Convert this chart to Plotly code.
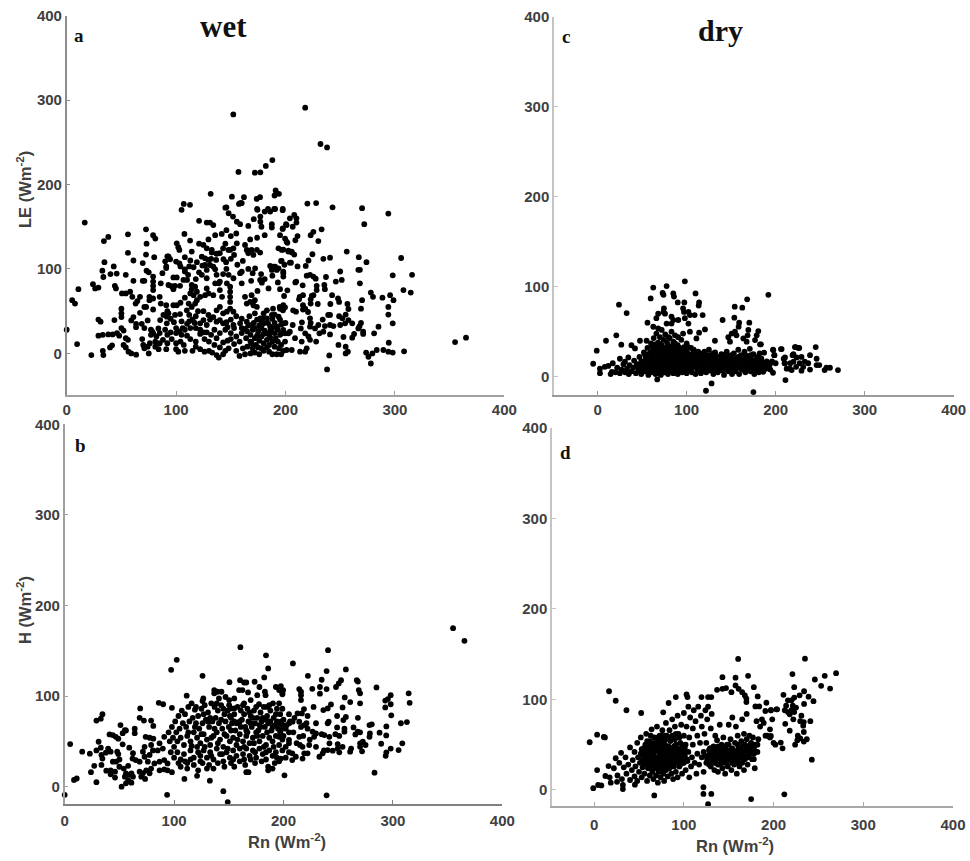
import plotly.graph_objects as go

W, H = 970, 861

wet_le = [
(16.5,155),(0,28),(9.5,11),(10.7,76),(5,63),(7.6,59),(22.5,-2),(33,3),(33.5,-2),(24,82),(26,77),(29,78),(34.5,108),(32.6,98),(33.5,90.5),(34,133),(38,138),
(40,94),(45.7,94.5),(43,103),(54,93),(44,80),(45,77),(56,141),(56,119),(61,110),(61,86),(29,40),(31,37.5),(43.6,39.5),(50,53),(50,47.5),(50,43),(29,21),(33,22),(38,22.5),(42,22.5),
(39.6,7),(41.5,9.5),(46,24),(50,30),(48,21),(52,27),(52,10),(54,7),(56.5,2),(59,0),(63.5,-1.5),(54,18),(56,16),(50.5,71),(54,71),(58,73),(60,67),(64.6,62),(67,67),(63,59),
(69.5,86),(71,86),(72.5,147),(73,130),(72.5,117),(69.5,107),(73,98),(75,96),(79,140),(81,136),(80,114),(79,91),(79,85),(79,80),(79,75),(75.6,67),(79,65),(75.6,63),(71,55),(72.6,55),(79,52),
(67,48),(61,43),(59,39),(63.4,35),(63.4,31),(68.6,35),(71,30),(74,39),(69,17),(70,10),(71,6),(75,0),(76,12),(81,8),(74,8),(81,14),(77,28),(79,24),(78,26),(77,22),
(85,67),(86,59),(91,57),(93,81),(86,83),(87.5,95),(91,103),(90,109),(93,115),
(152.3,283),(218,291),(232,248),(238,244),(157,215),(172,214),(177,214.5),(182,222),(188,229),(191,193),(190,187),(194,189),(131.6,189),(151,185.6),(162,185),(157.5,177),(159.6,178),(173.6,183),(176.7,185),(107,177),(112.7,176),(105,170),(145,172.6),(174,171),(184,171),(189.7,171),
(220,177.5),(228,178),(243,173),(270,172),(294,165.6),(272,153),(197.4,169.6),(208,164),(204,160),(210,160),(210,155),(206.6,150),(200.5,153),(197.4,147.4),(233,147),(225.5,144),(223,140),(211,139),(209,134),(230,133),(199.6,136),(201.7,131),(198,123),(202.6,120.6),(205.7,120.6),(208,117),(224.6,117.4),(256,120.6),(234.6,112),(240.7,113.4),(267,114),(274,108),(305.7,113),(221,110),(218.5,103.6),(196.5,109.5),(199,105),(205,107.5),(211,103),(250,97),(266.6,99),(268,99),(298,92.5),(315.7,93),(198,95),(198,91),(219.4,92),(222.4,93),(225.5,91),(227.6,88.5),(237,90.5),(246,85),(251.4,87),(268,83),(209,84),(215.7,80.6),(228.5,80),(228.5,75),(235.5,81),(236,76),(201.7,74.7),(195,76),(307.8,75),(314.5,72),(278,72),(280,67),(288.6,66),(295.6,69),(298.7,63),(242.6,69),(248,65),(249,61),(213,67),(216,69),(212.4,64),(224,68),(223,64),(225.5,69),(223,59),(198.7,68),(270,63),(229.5,58.5),(241,58.5),(256.6,58.5),(257.5,52.6),(269,53),(294,55),(294,46),(298,35.6),(216,57),(218,53),(216,52),(220.6,49),(198,57),(196.5,53),(199.6,54.5),(195,53),(207,51),(209.6,49.4),(239,45.5),(240.7,45.5),(249,44),(252,41.5),(255,46),(234,40),(222.4,41.5),(223,36),(257.5,39.5),(254.5,35.6),(261,35.6),(269,36),(267.6,32),(266.6,29.6),(250,33.6),(215,36.8),(214,29.6),(230,33.6),(236,32.4),(240.7,33.6),(243.8,32.4),(285,31.6),(281,23.7),(271,25.7),(271,23),(262.7,23),(261,18.6),(240.7,22.5),(231,23.7),(234.6,25.7),(227,29.6),(222.4,31.6),(253,19.4),(248.4,10),(255,8),(255,0),(257,2),(228,14),(294.4,12.6),(308.4,2.4),(273.7,1),(279.4,0),(283.4,4),(289.5,4),(294,2),(298,1),(275.8,-4),(278,-12),(240,-2.4),(238,-19),(355,13.4),(365,18.6),(213.3,2),(218,2),(219.4,6),(201,4),(205.7,4),(214.8,14),(218,23.7),(221,20),(222.4,16),(208.7,18),(199.6,14),(196.5,23.7),(199.6,23.7),(202.6,23.7),(198,35.6),(206.6,33.6),
(121,157),(128,155),(131,155),(134,152),(146,173),(148,166),(152,162),(155.5,156),(158.5,153),(158.5,178),(160,178),(166,151),(171,159),(174.4,170),(177,162),(177,156),(178,150),(181,168),(186,168),(190.5,171),(197.5,171),(187.5,153),(187.5,149),(197.5,148),(201,152),(181,140),(174,137),(167.7,135),(107.6,141.5),(112.8,133.6),(121,130),(125,128.5),(129.6,135),(135.7,140),(141.7,141.5),(146,146),(150,139),(155,142),(100.6,130.4),(102,125.7),(103,122.5),(114.3,120.6),(92,115),(94.5,111.5),(91,101),(100,108.7),(103,106.7),(104,103),(108,114),(108,99.6),
(128,124.5),(132.6,122.5),(132.6,119.4),(123.5,114.6),(126.5,112.6),(129.6,110.7),(136.6,110.7),(140,118.6),(143,124.5),(145,130),(143.3,111.5),(145.7,108),(149.4,122.5),(152.4,124.5),(155.5,130.4),(153,116.6),(147.9,122.5),(163,128.5),(164.6,122.5),(166,118.6),(169,122.5),(170.7,116.6),(173.8,122.5),(176.8,119.4),(161,109.5),(158.5,95),(160,96.8),(172.2,100.8),(177.7,94),(168.6,86),(176.8,87),(178.4,83.8),(184.5,77),(174.4,74),
(186,103.6),(189,102.8),(190.5,102.8),(193.6,100.8),(187.5,98.8),(192,98.8),(198,96.8),(193.6,124.5),(196.6,122.5),(202.7,121.7),(205.8,119.4),(196,109.5),(204,107.5),(209.8,85),(195,140),(201,132.4),
(126.5,104.7),(131,104.7),(134,102.8),(135.7,99.6),(128,98.8),(123.5,93),(128,89),(137,93),(143,94),(148,93),(152.4,89),(160,83),(140,85),(135.7,83),(139,83),(146.4,83),
(108,97),(111,93),(106.7,87),(110,87),(100.6,90),(97.5,90),(99,80),(103.6,80),(97.5,76),(96,79.5),(114.3,81),(117.4,79),(114.3,76),(119,73),(116,69),(122,67),(119,63),(117.4,59),(126.5,69),(129.6,71),(128,77),(134,69),(140,75),(142,67),(149.4,79),(149.4,73),(149.4,67),(149.4,61),
(163,67),(169,69),(172,63),(167.7,61),(164.6,59),(170.7,57),(173.8,55),(111.5,59),(114.3,55),(109.8,51),(112,45.5),(97.5,57),(100.6,57),(99,45.5),(103.6,46.6),(93,47.5),(91.5,43.5),(88.4,45.5),(85.4,39.5),(91.5,35.6),(83.8,29.6),
(125,50),(129.6,45.5),(125,39.5),(122,35.6),(128,33.6),(137,51),(140,55),(143,47.5),(146.4,49.4),(149.4,53),(152.4,49.4),(140,39.5),(137,37.5),(143,35.6),(152.4,33.6),(158.5,35.6),(164.6,37.5),(169,33.6),(172,47.5),(180,47.5),(183,51),(188.6,53),(194.7,55),(197.7,51),(187.6,45.5),(193.7,43.5),(183,41.5),(177,41.5),(180,35.6),(186,31.6),(192,31.6),(198,27.7),(204,25.7),(177,29.6),
(100,24),(105,22),(110,21),(113,17),(118,14),(104,14),(107,10),(100,12),(96,17),(92,12),(91,5),(100,5),(102,2),(108,3),(115,3),(118,8),(122,5),(126,2),(130,3),(133,1),(137,-2),(139,-5),(143,-1),(145,3),(140,7),(135,10),(130,14),(126,17),(122,23),(128,25),(135,28),(140,24),(145,28),(150,24),(155,20),(160,24),(163,29),(158,14),(153,11),(148,6),(155,3),(158,-3),(163,-1),(168,0),(172,1),(176,-1),(180,3),(185,2),(188,-1),(192,-1),(196,-1),(198,3),(194,6),(190,8),(185,10),(180,12),(176,15),(172,18),(168,22),(165,26),(170,28),(175,26),(180,23),(185,22),(190,24),(195,22),(165,8),(170,6),(175,7),(161,6),(168,14),(173,10),(178,6),(183,7),(188,14),(193,14),(183,16),(178,20),(186,26),(191,18),(196,10),(160,30),(166,33),(172,30),(178,32),(184,36),(190,36),(195,40),(200,36),(188,41),(180,42),(100,30),(95,25),(90,28),(85,24),(82,20),(88,16),(85,12),(84,5),(92,22),(108,28),(113,30),(118,30),(122,28),(110,35),(105,38),(115,40),(125,25),(132,22),(137,18),(143,13),(147,15),(150,17),(153,30),(147,31),
(155,44),(160,41),(167,44),(174,40),(178,38),(190,46),(196,34),(186,19),(181,27),(174,21),(169,12),(164,18),(171,36),(176,33),(182,24),(188,30),(193,28),(150,40),(146,37),(134,43),(131,40),(118,44),(120,50),(117,36),(112,38),(106,30),(103,26),(98,37),(95,41),(92,50),(104,60),(108,66),(113,71),(118,88),(121,96),(116,102),(124,104),(119,108),(113,110),(112,103),(132,112),(137,118),(156,105),(150,112),(146,100),(166,100),(170,95),(181,88),(188,92),(193,84),
]

wet_h = [
(0,-9),(5,47),(16,38.6),(23,36.4),(8.5,7.4),(11,9),(24,16),(27,23),(29,5),(29,73),(33,75),(34.5,80),(31,49.6),(29,40),(33,43),(33.6,35),(34.5,31),(33.6,24),(38,17.6),(39.7,42),(37.6,37.5),(42,38.6),(42,13.6),(41,57.7),(44,57),(46.7,55),(49,53),(51,68),(55,62.5),(53,59),(56,62),(53,46.7),(59,43),(48,38.6),(49,36),(44,27.6),(47,27.6),(50,30),(46,16.5),(50,22),(54,20),(58,23),(42,18),(46,10),(52,0),(56,3.7),(55,11),(58,13),(61,14.7),(62.4,11),(61,4.4),(58,7),(56,14.7),(64,64),(64,59),(69,86.4),(68.5,76),(72.4,73),(79,73),(81,67),(86,92.6),(90,91),(98,87),(74,55),(77.6,54),(81,53),(73,44),(79,46),(86.7,47.8),(91,55),(85,40),(89.7,42),(62.4,37),(62,31),(65,29.4),(68.5,27.6),(71.5,38.6),(73,33),(77.6,35),(76,27.6),(80.6,40),(82,25.7),(86.7,27.6),(91,29.4),(94,25.7),(86.7,18),(91,19),(94,18),(74.5,18),(73.5,8.5),(71.5,14.7),(68.5,16.5),(70,11),(77.6,14.7),(79,20),(93.6,-9),(97.3,129),(102.4,140),(98,16),(109.4,8.5),(121,12),(132.7,6.6),(145,-5),(149,-17),(126,122.4),(111.5,100.4),(160.6,154),(184,145),(186,130.5),(182.4,120.6),(150.6,115.4),(160.3,117.6),(164,115),(166,115),(173.6,115.8),(159.4,106.6),(162.4,106.6),(167.6,104),(176,101),(178,110),(183,104.8),(183.6,101),(136.7,106.6),(139.7,104.8),(143.3,104.8),(136.7,103),(141,97.4),(147,99),(150.3,95.6),(155,97.4),(126.7,97.4),(126,94.5),(155,86.4),(150.3,90),(152,86.4),(164,92),(170,95.6),(177.6,91),(185,88),(190.4,92),(196,92),(193,110),(196,106.6),(199,103),
(355,175),(365.4,161),(240.7,150.7),(208.6,136),(239.4,127.6),(257,129.4),(222.3,122.4),(234.9,118),(252.6,117.6),(250.5,114),(248,110),(267,117.6),(268,116),(285,109.6),(226.3,108),(233.3,110),(239.4,107.7),(233.3,102.6),(214.4,107.7),(216,104.8),(216,101),(216,95.6),(197.6,111),(199.7,106.6),(199,102),(268.8,106.6),(270,103),(256,98.5),(261,93.4),(270,92),(298,101),(295.4,96.7),(293,95),(298,91),(293,87.5),(314.4,103),(315.3,92.6),(227.5,88),(243.4,90.8),(240.4,86.4),(236.4,84.6),(254,87.5),(218.7,85.6),(212.8,80.9),(216.8,80.9),(222,78),(229.7,70),(249,78),(257,77),(254.7,73.5),(268,76),(241.3,71.7),(240.4,70),(298.5,78.7),(307.3,70),(312.8,71.3),(294,66.5),(278.6,68),(280.7,68.8),(249,65.4),(255.7,64),(264,65.4),(255.7,60.7),(247.4,58),(251,56),(241.9,55),(267.9,60.7),(270,60),(265.7,57.7),(279,58.8),(278.6,55),(287.8,59.6),(293.9,56.6),(234.9,58),(237.3,57),(226.6,60.7),(229.7,58.8),(222,64),(216,66),(219,68),(214.4,71.7),(205.2,70),(208.3,71.7),(199,68),(249.5,47),(254,44),(249.5,42),(242,47.8),(240.4,40.4),(245,39.7),(251,37.9),(260.9,38.6),(261.8,42),(270,47.8),(272.5,49.6),(275,46),(270,44),(271.8,39),(289.3,47.4),(308.6,47.8),(298,42),(305.2,40.4),(294,37.9),(293.4,34),(283.2,15.4),(200.9,12.5),(239.4,-9.6),(235.8,36.8),(232.8,33),(237,40),(229.7,44),(223.5,46),(217.4,44),(219,36.8),(211.3,33),(208,29.4),(217.4,31),(222,36.8),(208,36.8),(197.6,31),(228,55),(214.4,55),(205,51.5),(196,55),(197.6,62.5),
(95,60),(98,66),(101,72),(104,78),(107,84),(110,80),(113,88),(116,92),(119,85),(122,78),(125,86),(128,90),(131,82),(134,92),(137,88),(140,84),(143,90),(146,80),(149,84),(152,76),(155,80),(158,88),(161,84),(164,80),(167,86),(170,78),(173,84),(176,76),(179,82),(182,88),(185,78),(188,84),(191,76),(194,86),(197,80),(200,74),
(96,50),(99,54),(102,60),(105,64),(108,70),(111,66),(114,72),(117,76),(120,70),(123,64),(126,70),(129,74),(132,66),(135,72),(138,76),(141,70),(144,64),(147,72),(150,66),(153,70),(156,62),(159,70),(162,74),(165,66),(168,72),(171,66),(174,70),(177,62),(180,72),(183,66),(186,70),(189,62),(192,68),(195,64),(198,72),(202,64),(205,60),
(97,38),(100,44),(103,50),(106,54),(109,46),(112,56),(115,50),(118,60),(121,54),(124,48),(127,58),(130,52),(133,46),(136,56),(139,60),(142,52),(145,44),(148,56),(151,50),(154,54),(157,46),(160,58),(163,50),(166,56),(169,48),(172,54),(175,60),(178,50),(181,56),(184,46),(187,54),(190,50),(193,56),(196,46),(199,52),(202,44),(205,48),
(100,32),(103,38),(106,30),(109,36),(112,26),(115,40),(118,32),(121,44),(124,34),(127,40),(130,32),(133,38),(136,30),(139,42),(142,36),(145,28),(148,38),(151,32),(154,40),(157,34),(160,42),(163,36),(166,42),(169,34),(172,40),(175,32),(178,42),(181,36),(184,30),(187,40),(190,34),(193,38),(196,28),(199,40),(202,32),(205,38),
(106,22),(112,20),(118,24),(122,18),(126,26),(132,24),(136,20),(140,26),(146,22),(152,26),(155,22),(160,28),(165,24),(170,30),(174,26),(180,28),(186,22),(192,26),(166,16),(168,16),(186,18),(190,20),(104,26),(110,28),(130,20),
(113,60),(116,45),(119,66),(122,38),(125,58),(128,44),(131,72),(134,54),(137,64),(140,48),(143,74),(146,58),(149,42),(152,62),(155,72),(158,52),(161,66),(164,44),(167,60),(170,70),(173,48),(176,56),(179,66),(182,44),(185,60),(188,72),(191,44),(194,72),(197,60),(200,56),(203,68),(206,72),(209,60),(212,48),(215,46),(218,56),(221,70),(224,52),(120,88),(127,80),(133,76),(139,92),(145,86),(151,78),(157,70),(163,90),(169,82),(175,88),(181,76),(187,90),(193,80),(199,86),(205,80),(210,76),(160,72),(166,62),(172,76),(178,68),(184,74),(190,66),(196,70),(115,30),(124,28),(134,34),(144,36),(154,30),(164,30),(174,38),(184,38),(194,32),
]

dry_le = [
(-5,14.4),(-1,29),(9.4,40),(21,46),(24,80),(32.6,70.7),(26.6,35.6),(2.6,9),(8,11),(12,12),(17,15),(2.6,4),(14.6,3),(16,5.5),(25,20),(30.7,16.7),(38,35),(42,31.5),(34.5,21.5),
(47.6,40),(55,40),(56,60),(59.6,87),(62.5,99),(73,93),(74,91),(77.5,100.7),(74.5,76),(74,72),(85,92.6),(85.8,89),(90,82.6),(97.4,82.6),(98,106),(110,92.6),(114,82.6),(113.5,79),(118,68.5),(109,68.5),(96,76),(97,72),(102,72),(68,70),(66,65),(75.7,70),(83,66.7),(90.6,63),(77.5,59),(83,59),(85,63),(62.5,55.5),(68,53.7),(72,52),(98,65),(102,59),(103.7,68.5),(120.6,52.6),(114,49),(103.7,50),(96,48),(90.6,44),(85,39),(79.4,44),(111,42.6),(100,37),(107.5,29.6),(131.8,40),(140.4,63),(154,77.8),(162.5,76.7),(168,86),(191.8,91),(153.6,65.6),(159,60),(158.4,55.6),(170.4,60),(154.3,50),(150.6,48),(156,46),(146.8,44),(148.7,39),(169.3,52),(168.5,46),(163.7,42.6),(167.4,39),(180.5,50.7),(178.7,46),(176.8,40.7),(182.4,36),(187,26.7),(197.4,29.6),(198.5,24),(206.7,30.7),(222.5,33),(225.5,32),(219,24),(210.5,21.5),(210.5,15),(212.4,9),(223.6,21.5),(211,-3.7),(121.7,-15.6),(128,-7.4),(175,-17),(67,-3),
(270,7.4),(261,10),(255,7.4),(257,10),(245,33),(246,20),(246,13),(249,13),(221.6,33),(226.5,32),(206,30.7),(197,30),(198.6,24),(183.5,36),(238.6,24),(229,22),(220,25),(209,20),(232.7,16.7),(227,15),(220,16.7),(216.5,15),(236.6,15),(231,11),(223,11),(216,9),(238.6,8),(229,6.7),(218,7.4),(210,15),(197,4.4),(200,15),(193,13),(187,15),(184,11),(186,5.5),(182,16.7),(195,15.5),(189,9),
(20,5),(22,10),(25,4),(27,8),(29,14),(31,5),(33,9),(35,3),(36,13),(38,6),(40,10),(41,18),(43,4),(44,14),(46,8),(47,22),(49,3),(49,17),(51,11),(52,27),(53,6),(54,21),(55,15),(56,32),(57,2),(57,9),(58,25),(59,18),(60,37),(60,5),(61,12),(62,29),(62,22),(63,43),(64,8),(64,16),(65,33),(65,3),(66,26),(66,48),(67,12),(68,20),(68,38),(69,6),(69,30),(70,15),(70,44),(71,24),(71,2),(72,9),(72,35),(73,18),(73,28),(74,41),(74,5),(75,13),(75,22),(76,32),(76,47),(77,8),(77,26),(78,17),(78,38),(79,3),(79,30),(80,11),(80,22),(81,43),(81,6),(82,15),(82,34),(83,26),(83,50),(84,9),(84,19),(85,30),(85,4),(86,13),(86,24),(87,37),(87,46),(88,7),(88,18),(89,28),(90,3),(90,12),(90,35),(91,22),(92,7),(92,16),(93,30),(94,11),(94,41),(95,5),(95,20),(96,26),(97,14),(97,33),(98,8),(99,19),(100,4),(100,28),(101,12),(102,23),(103,8),(104,16),(105,32),(106,5),(107,20),(108,11),(109,25),(110,3),(110,16),(112,8),(112,21),(113,28),(115,13),(116,4),(116,24),(118,9),(118,18),(120,14),(120,28),(122,5),(122,22),(124,10),(125,17),(125,30),(127,7),(127,24),(129,13),(130,3),(130,20),(132,9),(132,27),(134,15),(135,5),(135,22),(137,11),(138,18),(139,25),(140,7),(141,14),(142,2),(143,21),(144,10),(145,28),(146,16),(147,6),(148,23),(149,12),(150,18),(151,3),(152,9),(153,26),(154,14),(155,6),(155,20),(157,11),(158,30),(159,3),(160,17),(161,24),(162,8),(163,13),(164,20),(165,28),(166,5),(167,16),(168,10),(169,23),(170,14),(171,31),(172,6),(173,19),(174,11),(175,25),(176,3),(177,15),(178,8),(179,21),(180,13),(181,5),(182,26),(183,17),(184,20),(186,13),(188,9),(190,17),(192,12),(194,8),(196,17),
(45,12),(48,7),(52,17),(55,24),(58,13),(60,20),(63,26),(66,10),(68,28),(70,22),(72,14),(74,31),(76,16),(78,25),(80,33),(82,9),(84,28),(86,20),(88,12),(90,26),(92,32),(94,18),(96,11),(98,24),(100,16),(102,33),(104,24),(106,14),(108,18),
(62,33),(64,25),(66,18),(68,8),(70,30),(72,24),(74,12),(76,6),(78,12),(80,28),(82,22),(84,14),(86,7),(88,24),(90,18),(92,26),(94,24),(96,8),(98,16),(100,12),
(51,6),(54,12),(57,18),(59,27),(61,9),(63,18),(65,12),(67,24),(69,16),(71,10),(73,22),(75,5),(77,14),(79,20),(81,26),(83,12),(85,18),(87,8),(89,15),(91,28),(93,20),(95,12),(97,22),(99,10),(101,26),(103,18),(105,10),(107,26),(109,14),(111,20),(113,12),(115,20),(117,8),(119,22),(121,12),(123,17),(125,7),(127,14),(129,20),(131,12),(133,6),(135,17),(137,21),(139,12),(141,20),(143,8),(145,14),(147,20),(149,8),(151,15),(153,6),(155,13),(157,18),(159,10),(161,15),(163,8),(165,12),(167,20),(169,7),(171,18),(173,13),(175,18),(177,8),(179,14),(181,18),(183,9),(185,15),
(50,14),(53,25),(56,8),(59,13),(62,6),(64,36),(66,30),(68,15),(70,36),(72,18),(74,24),(76,24),(78,8),(80,16),(82,28),(84,24),(86,34),(88,30),(90,20),(92,12),(94,30),(96,18),(98,30),(100,22),(102,16),(104,8),(106,24),(108,30),(110,24),(112,14),(114,18),(116,16),(118,26),(120,6),(122,16),(124,24),(126,20),(128,10),(130,26),(132,17),(134,21),(136,14),(138,8),(140,16),(142,24),(144,17),(146,11),(148,16),(150,24),(152,19),(154,8),(156,16),(158,22),(160,12),(162,22),(164,14),(166,24),(168,18),(170,9),(172,24),(174,16),(176,10),(178,18),(180,22),
]

dry_h = [
(-5,52.7),(3.3,61),(10.7,58.6),(12,58),(16.6,109),(24,98.5),(36,88),(52.4,85),(77,85.7),(91,102.6),(83,96),(103,105.5),(104,102.6),(119.6,102.6),(127,102.6),(130.6,102.6),(143,124.5),(157.6,124),(171.6,126),(160.5,144.7),(137,110.6),(143,111.7),(147,112.5),(153,108),(157.6,115.4),(161,111.7),(165,108),(168,104.4),(169.7,100.7),(169.7,97),(178,113.5),(182.3,103.3),(192,96.3),(179.7,92.3),(184,92.3),(190.8,87.2),(197,88),(204,89),(212,-4.8),(175,-10),(121.8,3),(121.8,-4.4),(130.6,-4.4),(127,-15.7),(67,-6),(-1,2),(3.3,22),(4.4,5.5),(8,5),(12.5,15.4),(17.3,14),(18.5,8),(25.5,9),(32,5.5),(32,1),(45.4,5.9),(16,26.4),
(235,145),(221,128),(269.7,129),(257,126),(246,122),(253,115),(263,112),(223,113.5),(211,105),(234,109),(229,104.5),(223,102),(239,103),(244.5,98),(234,95),(216,99),(220,99),(214,93),(212.5,88),(216,86),(221.4,93),(225,91),(223,86),(218,83.5),(220,88),(203,89),(197,88),(198.5,78),(222,78),(229.7,76),(233.7,75),(241,76),(233,71),(231,82),(213,73),(218,65.5),(233.7,64),(196,67),(197,59.6),(227,60),(229.7,57),(237,56),(233.7,53.4),(226.5,55),(224,50),(208,52.3),(202,50),(210,46),(242.6,33.4),
(22,24),(24,35),(26,16),(28,30),(30,41),(31,12),(33,25),(35,36),(36,18),(38,28),(40,11),(40,47),(42,22),(43,33),(45,15),(45,42),(46,26),(48,52),(48,10),(49,36),(50,20),(51,30),(52,58),(53,14),(53,45),(54,25),(55,38),(56,18),(57,50),(58,30),(58,62),(59,10),(60,24),(60,42),(61,35),(62,16),(62,54),(63,28),(64,46),(64,67),(65,20),(65,38),(66,12),(66,32),(67,58),(68,25),(68,44),(69,16),(69,36),(70,52),(70,70),(71,28),(71,8),(72,42),(72,20),(73,34),(73,60),(74,14),(74,48),(75,26),(75,38),(76,66),(76,55),(77,18),(77,44),(78,30),(78,10),(79,36),(79,50),(80,22),(80,74),(81,42),(81,60),(82,15),(82,30),(83,48),(83,36),(84,24),(84,66),(85,40),(85,54),(86,18),(86,30),(87,46),(87,78),(88,12),(88,36),(89,58),(89,26),(90,42),(90,70),(91,20),(91,50),(92,32),(93,82),(93,14),(94,44),(94,62),(95,26),(96,36),(96,52),(97,72),(98,18),(98,45),(99,30),(100,60),(100,85),(101,38),(102,22),(102,50),(103,70),(104,32),(105,42),(105,92),(106,14),(106,58),(107,80),(108,26),(109,36),(110,68),(110,50),(111,88),(112,30),(113,76),(114,18),(115,40),(115,60),(116,92),(117,28),(118,52),(119,82),(120,36),(120,70),(122,20),(122,42),(123,62),(124,88),(125,30),(125,52),(126,78),(127,92),(128,38),(129,46),(130,26),(130,68),(131,84),(132,34),(133,48),(134,22),(135,42),(135,60),(136,30),(137,55),(138,20),(138,36),(139,46),(140,28),(140,72),(141,40),(142,50),(143,24),(143,34),(144,58),(145,44),(146,30),(146,18),(147,38),(148,50),(149,26),(150,42),(150,72),(151,34),(152,56),(153,22),(154,46),(154,80),(155,36),(156,28),(157,52),(158,42),(158,70),(159,18),(160,32),(160,60),(161,46),(162,26),(163,38),(164,54),(165,30),(165,78),(166,44),(167,22),(167,62),(168,50),(169,36),(170,56),(170,84),(171,28),(172,46),(173,60),(174,40),(175,52),(176,34),(177,58),(178,46),(179,24),(180,50),(181,76),(182,42),(183,56),(185,70),(187,78),(189,74),(191,60),(193,60),(196,58),(200,52),
(52,40),(55,28),(58,46),(60,34),(62,42),(64,30),(66,40),(68,50),(70,36),(72,30),(74,40),(76,32),(78,42),(80,34),(82,42),(84,46),(86,36),(88,44),(90,34),(92,44),(94,38),(96,28),(98,38),(100,30),(70,24),(74,22),(78,24),(82,24),(65,50),(70,44),(75,52),(80,56),(85,46),(90,56),(60,50),(66,24),(72,56),(62,24),
(128,28),(132,40),(136,36),(140,44),(144,40),(148,30),(152,44),(156,36),(160,50),(164,42),(168,34),(172,38),(176,44),(134,30),(138,28),(142,30),(146,46),(150,50),(154,30),(158,30),(162,36),(166,50),(170,44),(174,50),(178,34),
(54,33),(57,42),(59,36),(61,28),(63,48),(65,44),(67,36),(69,28),(71,48),(73,42),(75,32),(77,36),(79,26),(81,36),(83,30),(85,26),(87,32),(89,48),(91,38),(93,46),(95,40),(97,34),(99,42),(101,46),(103,34),(55,46),(58,38),(60,30),(62,36),(64,24),(66,46),(68,32),(70,28),(72,46),(74,34),(76,42),(78,48),(80,44),(82,38),(84,34),(86,42),(88,30),(90,30),(92,38),(94,34),(96,44),(98,50),(100,40),(67,52),(71,58),(75,60),(79,60),(83,58),(87,60),(91,62),(95,58),(63,60),(59,54),
(126,34),(129,40),(131,30),(133,36),(135,34),(137,44),(139,38),(141,34),(143,44),(145,36),(147,44),(149,34),(151,40),(153,36),(155,44),(157,32),(159,38),(161,42),(163,46),(165,36),(167,40),(169,44),(171,36),(173,42),(175,46),(177,50),(130,46),(134,42),(138,48),(142,38),(146,40),(150,36),(154,40),(158,36),(162,30),(166,36),(170,48),(174,46),(178,40),(182,50),(128,44),(124,38),
]

wet_le_x, wet_le_y = [list(v) for v in zip(*wet_le)]
wet_h_x, wet_h_y = [list(v) for v in zip(*wet_h)]
dry_le_x, dry_le_y = [list(v) for v in zip(*dry_le)]
dry_h_x, dry_h_y = [list(v) for v in zip(*dry_h)]

tick_vals = [0, 100, 200, 300, 400]
TICK_FONT = dict(family="Liberation Sans", size=15, color="#404040", weight=700)

panels = [
    (wet_le_x, wet_le_y, (66.7, 504.3), (395, 15.7), (0, 400), (-49.3, 400), "#8c8c8c", "#a0a0a0", 0),
    (wet_h_x, wet_h_y, (64.7, 502.3), (803.7, 424.3), (0, 400), (-18.8, 400), "#a0a0a0", "#808080", 3),
    (dry_le_x, dry_le_y, (554, 953.7), (395, 16.7), (-49, 400), (-20.3, 400), "#c4c4c4", "#9a9a9a", 0),
    (dry_h_x, dry_h_y, (552, 953), (806, 427.7), (-47, 400), (-17.7, 400), "#c4c4c4", "#a8a8a8", 4),
]

fig = go.Figure()
layout = {}
for i, (xs, ys, xp, yp, xr, yr, ly, lx, standoff) in enumerate(panels, start=1):
    sx = "" if i == 1 else str(i)
    fig.add_trace(go.Scatter(x=xs, y=ys, mode="markers", xaxis=f"x{sx}", yaxis=f"y{sx}",
                             marker=dict(color="black", size=5.8, line=dict(width=0)),
                             cliponaxis=False, showlegend=False, hoverinfo="skip"))
    layout[f"xaxis{sx}"] = dict(domain=[xp[0] / W, xp[1] / W], range=list(xr), tickvals=tick_vals,
                                anchor=f"y{sx}", showgrid=False, zeroline=False, showline=True,
                                linecolor=lx, linewidth=1.5, ticks="inside", ticklen=4, tickcolor=lx,
                                tickwidth=1, tickfont=TICK_FONT, ticklabelstandoff=standoff)
    layout[f"yaxis{sx}"] = dict(domain=[1 - yp[0] / H, 1 - yp[1] / H], range=list(yr), tickvals=tick_vals,
                                anchor=f"x{sx}", showgrid=False, zeroline=False, showline=True,
                                linecolor=ly, linewidth=1.5, ticks="inside", ticklen=4, tickcolor=ly,
                                tickwidth=1, tickfont=TICK_FONT)

def note(text, px, py, size, family, color, angle=0, weight=700):
    return dict(text=text, x=px / W, y=1 - py / H, xref="paper", yref="paper", showarrow=False,
                xanchor="center", yanchor="middle", textangle=angle,
                font=dict(family=family, size=size, color=color, weight=weight))

SERIF = "Liberation Serif"
SANS = "Liberation Sans"
annotations = [
    note("wet", 223, 27, 31, SERIF, "#111111"),
    note("dry", 720, 30, 30, SERIF, "#111111"),
    note("a", 79, 35, 19, SERIF, "#111111"),
    note("b", 80, 445, 19, SERIF, "#111111"),
    note("c", 566, 37, 19, SERIF, "#111111"),
    note("d", 565, 452, 19, SERIF, "#111111"),
    note("LE (Wm<sup>-2</sup>)", 24, 190, 16.5, SANS, "#404040", -90),
    note("H (Wm<sup>-2</sup>)", 24, 610, 16.5, SANS, "#404040", -90),
    note("Rn (Wm<sup>-2</sup>)", 287, 841, 16.5, SANS, "#404040"),
    note("Rn (Wm<sup>-2</sup>)", 735, 845, 16.5, SANS, "#404040"),
]

fig.update_layout(width=W, height=H, margin=dict(l=0, r=0, t=0, b=0, autoexpand=False), autosize=False,
                  plot_bgcolor="white", paper_bgcolor="white", annotations=annotations, **layout)
fig.write_html("out.html", post_script="document.body.style.margin='0';",
               config={"displayModeBar": False})
